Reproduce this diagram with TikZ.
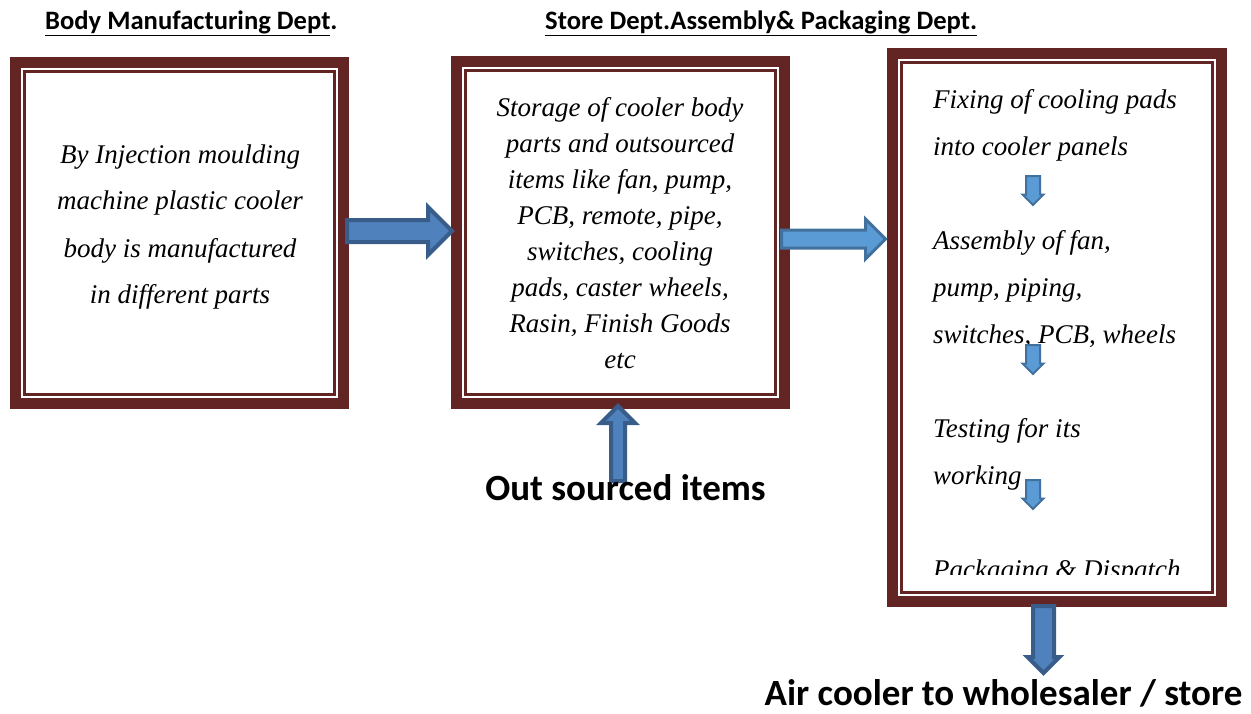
\documentclass[tikz,border=0pt]{standalone}
\usepackage{fontspec}
\setmainfont{Liberation Serif}
\newfontfamily\calib{Carlito}
\usetikzlibrary{shapes.arrows,calc}
\definecolor{framered}{HTML}{632523}
\definecolor{arrowfill}{HTML}{4F81BD}
\definecolor{arrowline}{HTML}{385D8A}
\definecolor{lightfill}{HTML}{5B9BD5}
\definecolor{lightline}{HTML}{41719C}

\begin{document}
\begin{tikzpicture}[x=1pt,y=-1pt]
        \tikzstyle{frame}=[draw=framered,line width=11pt,inner sep=0pt,outer sep=0pt]
        \tikzstyle{inner frame}=[draw=framered,line width=2.5pt]
        \tikzstyle{box text}=[font=\fontsize{27}{47}\selectfont\itshape,inner sep=0pt,align=center]
        \tikzstyle{dept}=[font=\calib\bfseries\fontsize{26.6}{32}\selectfont,inner sep=0pt,anchor=base west]
        \tikzstyle{label}=[font=\calib\bfseries\fontsize{37}{44}\selectfont,inner sep=0pt,anchor=base]
        \tikzstyle{blockarrow}=[single arrow,draw=arrowline,fill=arrowfill,line width=4pt,inner sep=0pt,outer sep=0pt,anchor=tail]
        \tikzstyle{lightarrow}=[single arrow,draw=lightline,fill=lightfill,line width=3pt,inner sep=0pt,outer sep=0pt,anchor=tail]
  \useasboundingbox (0,0) rectangle (1251,713);

  \node[dept] (h_body)  at (45,29)  {\underline{Body Manufacturing Dept}.};
  \node[dept] (h_store) at (545,29) {\underline{Store Dept.Assembly\& Packaging Dept.}};

  \node[frame,minimum width=328pt,minimum height=341pt] (bmd)   at (179.5,233)  {};
  \node[frame,minimum width=328pt,minimum height=342pt] (store) at (620.5,232.5) {};
  \node[frame,minimum width=329pt,minimum height=548pt] (assy)  at (1057,327.5)  {};
  \foreach \b in {bmd,store,assy}
    \draw[inner frame] ($(\b.north west)+(9,9)$) rectangle ($(\b.south east)-(9,9)$);

  \node[box text] (t_bmd) at (180,227) {By Injection moulding\\ machine plastic cooler\\ body is manufactured\\ in different parts};
  \node[box text,font=\fontsize{27}{36}\selectfont\itshape] (t_store) at (620,233)
    {Storage of cooler body\\ parts and outsourced\\ items like fan, pump,\\ PCB, remote, pipe,\\ switches, cooling\\ pads, caster wheels,\\ Rasin, Finish Goods\\ etc};
  \begin{scope}
    \clip (905,60) rectangle (1210,574);
    \node[box text,align=left,anchor=north west] (t_assy) at (933,89)
      {Fixing of cooling pads\\ into cooler panels\\[47pt] Assembly of fan,\\ pump, piping,\\ switches, PCB, wheels\\[47pt]
       Testing for its\\ working\\[47pt] Packaging \& Dispatch};
  \end{scope}

  % sideways arrows take their shaft from inner ysep, upright ones from inner xsep
  \node[blockarrow,minimum height=105pt,inner ysep=9pt,single arrow head extend=13pt] (a_1) at (347,231) {};
  \node[lightarrow,minimum height=104pt,inner ysep=7.5pt,single arrow head extend=11pt] (a_2) at (781.5,239) {};
  \node[blockarrow,minimum height=75pt,inner xsep=5pt,single arrow head extend=10pt,shape border rotate=90] (a_in) at (618,481) {};
  \foreach \y [count=\i] in {176,345,480}
    \node[lightarrow,line width=2pt,minimum height=29pt,inner xsep=6pt,single arrow head extend=3.5pt,shape border rotate=270] (s_\i) at (1033,\y) {};
  \node[blockarrow,minimum height=67pt,inner xsep=8.5pt,single arrow head extend=5.5pt,shape border rotate=270] (a_out) at (1043.5,606) {};

  \node[label] (outsrc) at (625.5,500) {Out sourced items};
  \node[label] (aircool) at (1003.5,705) {Air cooler to wholesaler / store};
    \end{tikzpicture}
\end{document}
